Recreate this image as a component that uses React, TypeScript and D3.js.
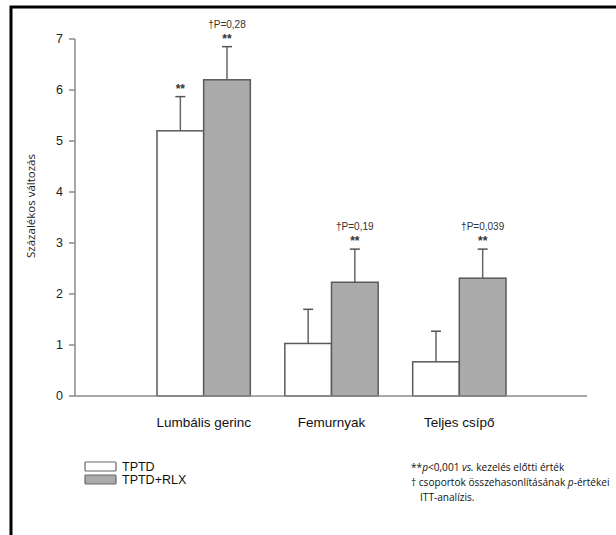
import React from 'react'
import * as d3 from 'd3'

const categories = ['Lumbális gerinc', 'Femurnyak', 'Teljes csípő']
const groups = ['TPTD', 'TPTD+RLX']
const tptd = [5.2, 1.03, 0.67]
const tptdErr = [5.87, 1.7, 1.27]
const rlx = [6.2, 2.23, 2.31]
const rlxErr = [6.85, 2.88, 2.88]
const starsTptd = ['**', '', '']
const starsRlx = ['**', '**', '**']
const pLabels = ['†P=0,28', '†P=0,19', '†P=0,039']
const yTicks = [0, 1, 2, 3, 4, 5, 6, 7]

const W = 616
const H = 535
const GRAY = '#ababab'
const AXIS = '#8a8a8a'
const SANS = '"Liberation Sans", Arial, sans-serif'
const MYRIAD = '"Open Sans", "Noto Sans", sans-serif'

export default function App() {
  const y = d3.scaleLinear().domain([0, 7]).range([396, 39])
  const x0 = d3.scaleBand().domain(categories).range([157, 506]).paddingInner(0.27).paddingOuter(0)
  const x1 = d3.scaleBand().domain(groups).range([0, x0.bandwidth()])

  const series = [
    { key: 'TPTD', vals: tptd, errs: tptdErr, fill: '#fff', stars: starsTptd },
    { key: 'TPTD+RLX', vals: rlx, errs: rlxErr, fill: GRAY, stars: starsRlx },
  ]

  return (
    <svg width={W} height={H} style={{ position: 'absolute', left: 0, top: 0, background: '#fff' }}>
      <rect x={11} y={7} width={W + 20} height={H + 20} fill="#fff" stroke="#000" strokeWidth={3} />

      {/* y axis */}
      <line x1={75} x2={75} y1={y(7)} y2={y(0)} stroke={AXIS} strokeWidth={1.5} />
      {yTicks.map(t => (
        <g key={t} transform={`translate(75,${y(t)})`}>
          <line x1={-6} x2={0} stroke={AXIS} strokeWidth={1.5} />
          <text x={-12} dy="0.35em" textAnchor="end" fontFamily={SANS} fontSize={12.5} fill="#222">{t}</text>
        </g>
      ))}
      <text transform={`translate(31,206) rotate(-90)`} textAnchor="middle" dy="0.35em"
        fontFamily={MYRIAD} fontSize={11.5} fill="#222">Százalékos változás</text>

      {/* bars */}
      {series.map(s => (
        <g key={s.key}>
          {categories.map((c, i) => {
            const bx = (x0(c) || 0) + (x1(s.key) || 0)
            const bw = x1.bandwidth()
            const cx = bx + bw / 2
            return (
              <g key={c}>
                <line x1={cx} x2={cx} y1={y(s.vals[i])} y2={y(s.errs[i])} stroke="#666" strokeWidth={1.5} />
                <line x1={cx - 5} x2={cx + 5} y1={y(s.errs[i])} y2={y(s.errs[i])} stroke="#555" strokeWidth={1.5} />
                <rect x={bx} y={y(s.vals[i])} width={bw} height={y(0) - y(s.vals[i])}
                  fill={s.fill} stroke="#5a5a5a" strokeWidth={1.5} />
                {s.stars[i] && (
                  <text x={cx} y={y(s.errs[i]) - 4} textAnchor="middle" fontFamily={SANS} fontWeight="bold"
                    fontSize={12} fill="#333">{s.stars[i]}</text>
                )}
                {s.key === 'TPTD+RLX' && (
                  <text x={cx} y={y(s.errs[i]) - 19} textAnchor="middle" fontFamily={SANS}
                    fontSize={10} fill="#333">{pLabels[i]}</text>
                )}
              </g>
            )
          })}
        </g>
      ))}

      {/* x axis */}
      <line x1={75} x2={587} y1={y(0)} y2={y(0)} stroke={AXIS} strokeWidth={1.5} />
      {categories.map(c => (
        <text key={c} x={(x0(c) || 0) + x0.bandwidth() / 2} y={427} textAnchor="middle"
          fontFamily={SANS} fontSize={13.5} fill="#111">{c}</text>
      ))}

      {/* legend */}
      {series.map((s, i) => (
        <g key={s.key} transform={`translate(85,${462 + i * 13})`}>
          <rect width={31} height={9} rx={1} fill={s.fill} stroke="#666" strokeWidth={1.2} />
          <text x={37} y={9} fontFamily={SANS} fontSize={12.5} fill="#111">{s.key}</text>
        </g>
      ))}

      {/* footnotes */}
      <g fontFamily={MYRIAD} fontSize={10.1} fill="#111">
        <text x={411} y={471}>**<tspan fontStyle="italic">p</tspan>&lt;0,001 <tspan fontStyle="italic">vs.</tspan> kezelés előtti érték</text>
        <text x={411} y={486}>† csoportok összehasonlításának <tspan fontStyle="italic">p</tspan>-értékei</text>
        <text x={420} y={501}>ITT-analízis.</text>
      </g>
    </svg>
  )
}
